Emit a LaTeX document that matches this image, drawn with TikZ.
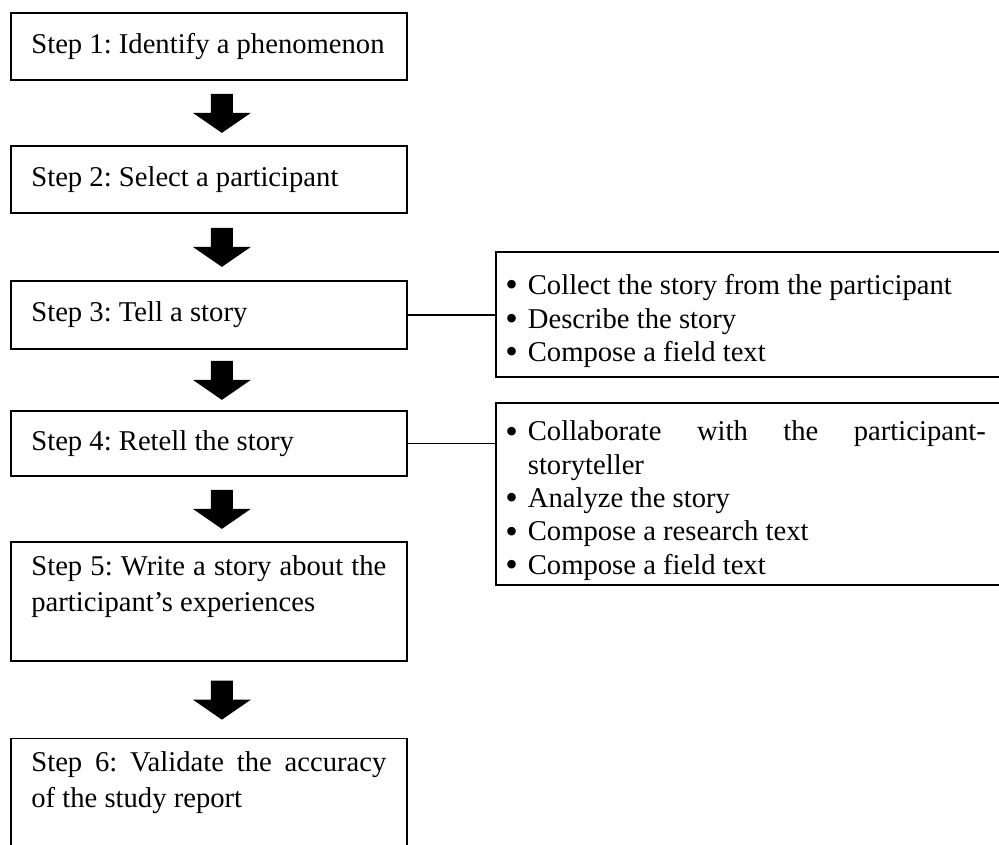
\documentclass[tikz,border=0pt]{standalone}
\usepackage{fontspec}
\setmainfont{Liberation Serif}
\usepackage{enumitem}
\usetikzlibrary{calc}

\frenchspacing
\setlist[itemize]{nosep,leftmargin=0.52cm,labelsep=0.2cm,rightmargin=0.72cm,
  label={\raisebox{-0.08em}{\scalebox{1.25}{\textbullet}}}}

\tikzset{
  stepbox/.style={draw,line width=1pt,anchor=north west,text width=7.1cm,
    inner xsep=0.41cm,inner ysep=0pt,align=justify,
    font=\fontsize{16.3}{20.5}\selectfont},
  listbox/.style={draw,line width=1pt,anchor=north west,text width=10.4cm,
    inner xsep=0.12cm,inner ysep=0pt,align=justify},
  link/.style={line width=0.7pt}
}

\begin{document}
\begin{tikzpicture}[font=\fontsize{16.3}{19}\selectfont]
  \useasboundingbox (0,0) rectangle (19.98,-16.88);
  \clip (0,0) rectangle (19.98,-16.88);

  % the six steps
  \node[stepbox,minimum height=1.34cm] (s1) at (0.2,-0.24) {Step 1: Identify a phenomenon};
  \node[stepbox,minimum height=1.34cm] (s2) at (0.2,-2.9) {Step 2: Select a participant};
  \node[stepbox,minimum height=1.36cm] (s3) at (0.2,-5.6) {Step 3: Tell a story};
  \node[stepbox,minimum height=1.3cm] (s4) at (0.2,-8.2) {Step 4: Retell the story};
  \node[stepbox,minimum height=2.38cm] (s5) at (0.2,-10.82) {Step 5: Write a story about the\linebreak participant's experiences\par\mbox{}};
  \node[stepbox,minimum height=2.38cm] (s6) at (0.2,-14.75) {Step 6: Validate the accuracy\linebreak of the study report\par\mbox{}};

  % side notes
  \node[listbox,minimum height=2.5cm] (r1) at (9.9,-5.02) {%
    \begin{itemize}
      \item Collect the story from the participant
      \item Describe the story
      \item Compose a field text
    \end{itemize}};
  \node[listbox,minimum height=3.64cm] (r2) at (9.9,-8.04) {%
    \begin{itemize}
      \item Collaborate with the participant-\linebreak storyteller
      \item Analyze the story
      \item Compose a research text
      \item Compose a field text
    \end{itemize}};

  \draw[link] (s3.east) -- (s3.east -| r1.west);
  \draw[link] (s4.east) -- (s4.east -| r2.west);

  % block arrows
  \foreach \a/\b in {s1/s2,s2/s3,s3/s4,s4/s5,s5/s6}
    \fill ($(\a.south)!.5!(\b.north)+(0.26,0)$) ++(-0.22,0.38) -- ++(0.44,0) -- ++(0,-0.38)
      -- ++(0.36,0) -- ++(-0.58,-0.4) -- ++(-0.58,0.4) -- ++(0.36,0) -- cycle;
\end{tikzpicture}
\end{document}
